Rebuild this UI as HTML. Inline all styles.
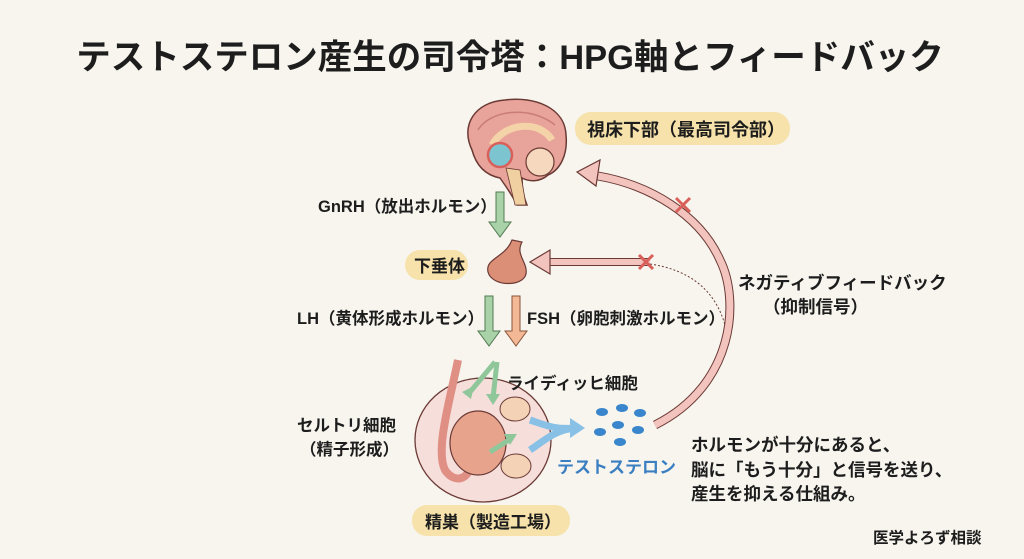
<!DOCTYPE html>
<html><head><meta charset="utf-8"><style>
body{margin:0;background:#f7f5ee;}
svg{display:block}
text{font-family:"Liberation Sans","Noto Sans CJK JP",sans-serif;fill:#1d1d1d;font-weight:bold}
</style></head><body>
<svg width="1024" height="559" viewBox="0 0 1024 559">
<rect width="1024" height="559" fill="#f7f5ee"/>
<text x="510" y="69" text-anchor="middle" font-size="34.5">テストステロン産生の司令塔：HPG軸とフィードバック</text>

<!-- brain -->
<path d="M472 150 C460 125 475 102 505 100 C535 96 565 108 566 135 C568 155 560 170 548 175 C540 182 530 182 522 178 C522 190 524 198 527 205 L517 205 C512 195 505 185 500 178 C485 175 476 165 472 150Z" fill="#e8a39a" stroke="#6b3a35" stroke-width="1.5"/>
<path d="M478 130 C490 110 530 105 555 125" stroke="#c97d75" stroke-width="1.5" fill="none"/>
<path d="M492 145 C505 122 540 120 552 140" stroke="#f5d3a8" stroke-width="7" fill="none"/>
<circle cx="500" cy="155" r="12" fill="#7cc4cf" stroke="#d9605a" stroke-width="2.5"/>
<circle cx="540" cy="162" r="14" fill="#f5d8be" stroke="#6b3a35" stroke-width="1.2"/>
<path d="M506 168 L515 205 L526 205 L520 170Z" fill="#f0cfa0" stroke="#6b3a35" stroke-width="0.8"/>
<rect x="575" y="112" width="215" height="33" rx="16" fill="#f6e2aa"/>
<text x="587" y="136" font-size="18">視床下部（最高司令部）</text>

<text x="318" y="212" font-size="16.5">GnRH（放出ホルモン）</text>
<path d="M496 192 h8 v30 h7 l-11 15 l-11 -15 h7z" fill="#a9d2a9" stroke="#527a52" stroke-width="1"/>

<rect x="405" y="250" width="63" height="30" rx="15" fill="#f6e2aa"/>
<text x="414" y="272" font-size="17">下垂体</text>
<path d="M512 240 L522 242 C515 255 528 262 526 274 C523 287 492 287 488 272 C485 258 505 258 512 240Z" fill="#dc8f77" stroke="#6b3a35" stroke-width="1.2"/>

<!-- feedback arrows -->
<path d="M655 425 C735 385 740 300 720 260 C700 215 650 185 598 176" stroke="#6b3a35" stroke-width="9" fill="none"/>
<path d="M655 425 C735 385 740 300 720 260 C700 215 650 185 598 176" stroke="#f3c3bd" stroke-width="7" fill="none"/>
<path d="M577 172 L600 160 L596 186Z" fill="#f3c3bd" stroke="#6b3a35" stroke-width="1.2"/>
<path d="M650 264 C690 270 715 290 725 325" stroke="#6b3a35" stroke-width="1" stroke-dasharray="2 2" fill="none"/>
<path d="M545 262 L650 262" stroke="#6b3a35" stroke-width="8" fill="none"/>
<path d="M545 262 L650 262" stroke="#f3c3bd" stroke-width="6" fill="none"/>
<path d="M530 262 L550 250 L550 274Z" fill="#f3c3bd" stroke="#6b3a35" stroke-width="1.2"/>
<g stroke="#d9605a" stroke-width="3"><path d="M639 255 l14 14 M653 255 l-14 14"/><path d="M676 198 l14 14 M690 198 l-14 14"/></g>
<text x="738" y="289" font-size="17.5">ネガティブフィードバック</text>
<text x="763" y="313" font-size="17.5">（抑制信号）</text>

<text x="297" y="324" font-size="16.5">LH（黄体形成ホルモン）</text>
<path d="M485 296 h8 v35 h7 l-11 15 l-11 -15 h7z" fill="#a9d2a9" stroke="#527a52" stroke-width="1"/>
<path d="M512 296 h8 v35 h7 l-11 15 l-11 -15 h7z" fill="#f3b996" stroke="#8a5438" stroke-width="1"/>
<text x="527" y="324" font-size="16.5">FSH（卵胞刺激ホルモン）</text>

<!-- testis -->
<ellipse cx="483" cy="440" rx="68" ry="62" fill="#f6dedb" stroke="#6b3a35" stroke-width="1.3"/>
<path d="M458 360 C450 400 435 450 445 470 C455 485 470 478 470 465" stroke="#e08f85" stroke-width="8" fill="none"/>
<ellipse cx="478" cy="443" rx="28" ry="32" fill="#e8a38d" stroke="#6b3a35" stroke-width="1.2"/>
<ellipse cx="515" cy="409" rx="15" ry="12" fill="#f3d2b6" stroke="#6b3a35" stroke-width="1"/>
<ellipse cx="516" cy="466" rx="15" ry="12" fill="#f3d2b6" stroke="#6b3a35" stroke-width="1"/>
<path d="M495 362 L470 392 M497 362 L493 398" stroke="#8fc79b" stroke-width="5" fill="none"/>
<path d="M462 392 L474 386 L471 399Z M486 394 L500 394 L493 405Z" fill="#8fc79b"/>
<path d="M490 452 L512 438" stroke="#8fc79b" stroke-width="5"/>
<path d="M517 434 L504 434 L510 445Z" fill="#8fc79b"/>
<path d="M530 420 C545 425 555 430 575 428 M530 450 C545 440 555 430 575 428" stroke="#88c0e6" stroke-width="7" fill="none"/>
<path d="M585 428 L570 418 L570 438Z" fill="#88c0e6"/>
<text x="507" y="389" font-size="16.5">ライディッヒ細胞</text>
<text x="297" y="431" font-size="16.5">セルトリ細胞</text>
<text x="300" y="455" font-size="16.5">（精子形成）</text>
<g fill="#3a86cc">
<ellipse cx="602" cy="412" rx="6" ry="4"/><ellipse cx="622" cy="408" rx="6" ry="4"/><ellipse cx="640" cy="413" rx="6" ry="4"/>
<ellipse cx="618" cy="425" rx="6" ry="4"/><ellipse cx="600" cy="432" rx="6" ry="4"/><ellipse cx="638" cy="430" rx="6" ry="4"/><ellipse cx="620" cy="442" rx="6" ry="4"/>
</g>
<text x="557" y="473" font-size="17" style="fill:#3a7fc1">テストステロン</text>
<rect x="412" y="505" width="158" height="31" rx="15" fill="#f6e2aa"/>
<text x="425" y="528" font-size="17">精巣（製造工場）</text>

<text x="691" y="451" font-size="17.5">ホルモンが十分にあると、</text>
<text x="691" y="476" font-size="17.5">脳に「もう十分」と信号を送り、</text>
<text x="691" y="500" font-size="17.5">産生を抑える仕組み。</text>
<text x="873" y="543" font-size="15.5">医学よろず相談</text>
</svg>
</body></html>
